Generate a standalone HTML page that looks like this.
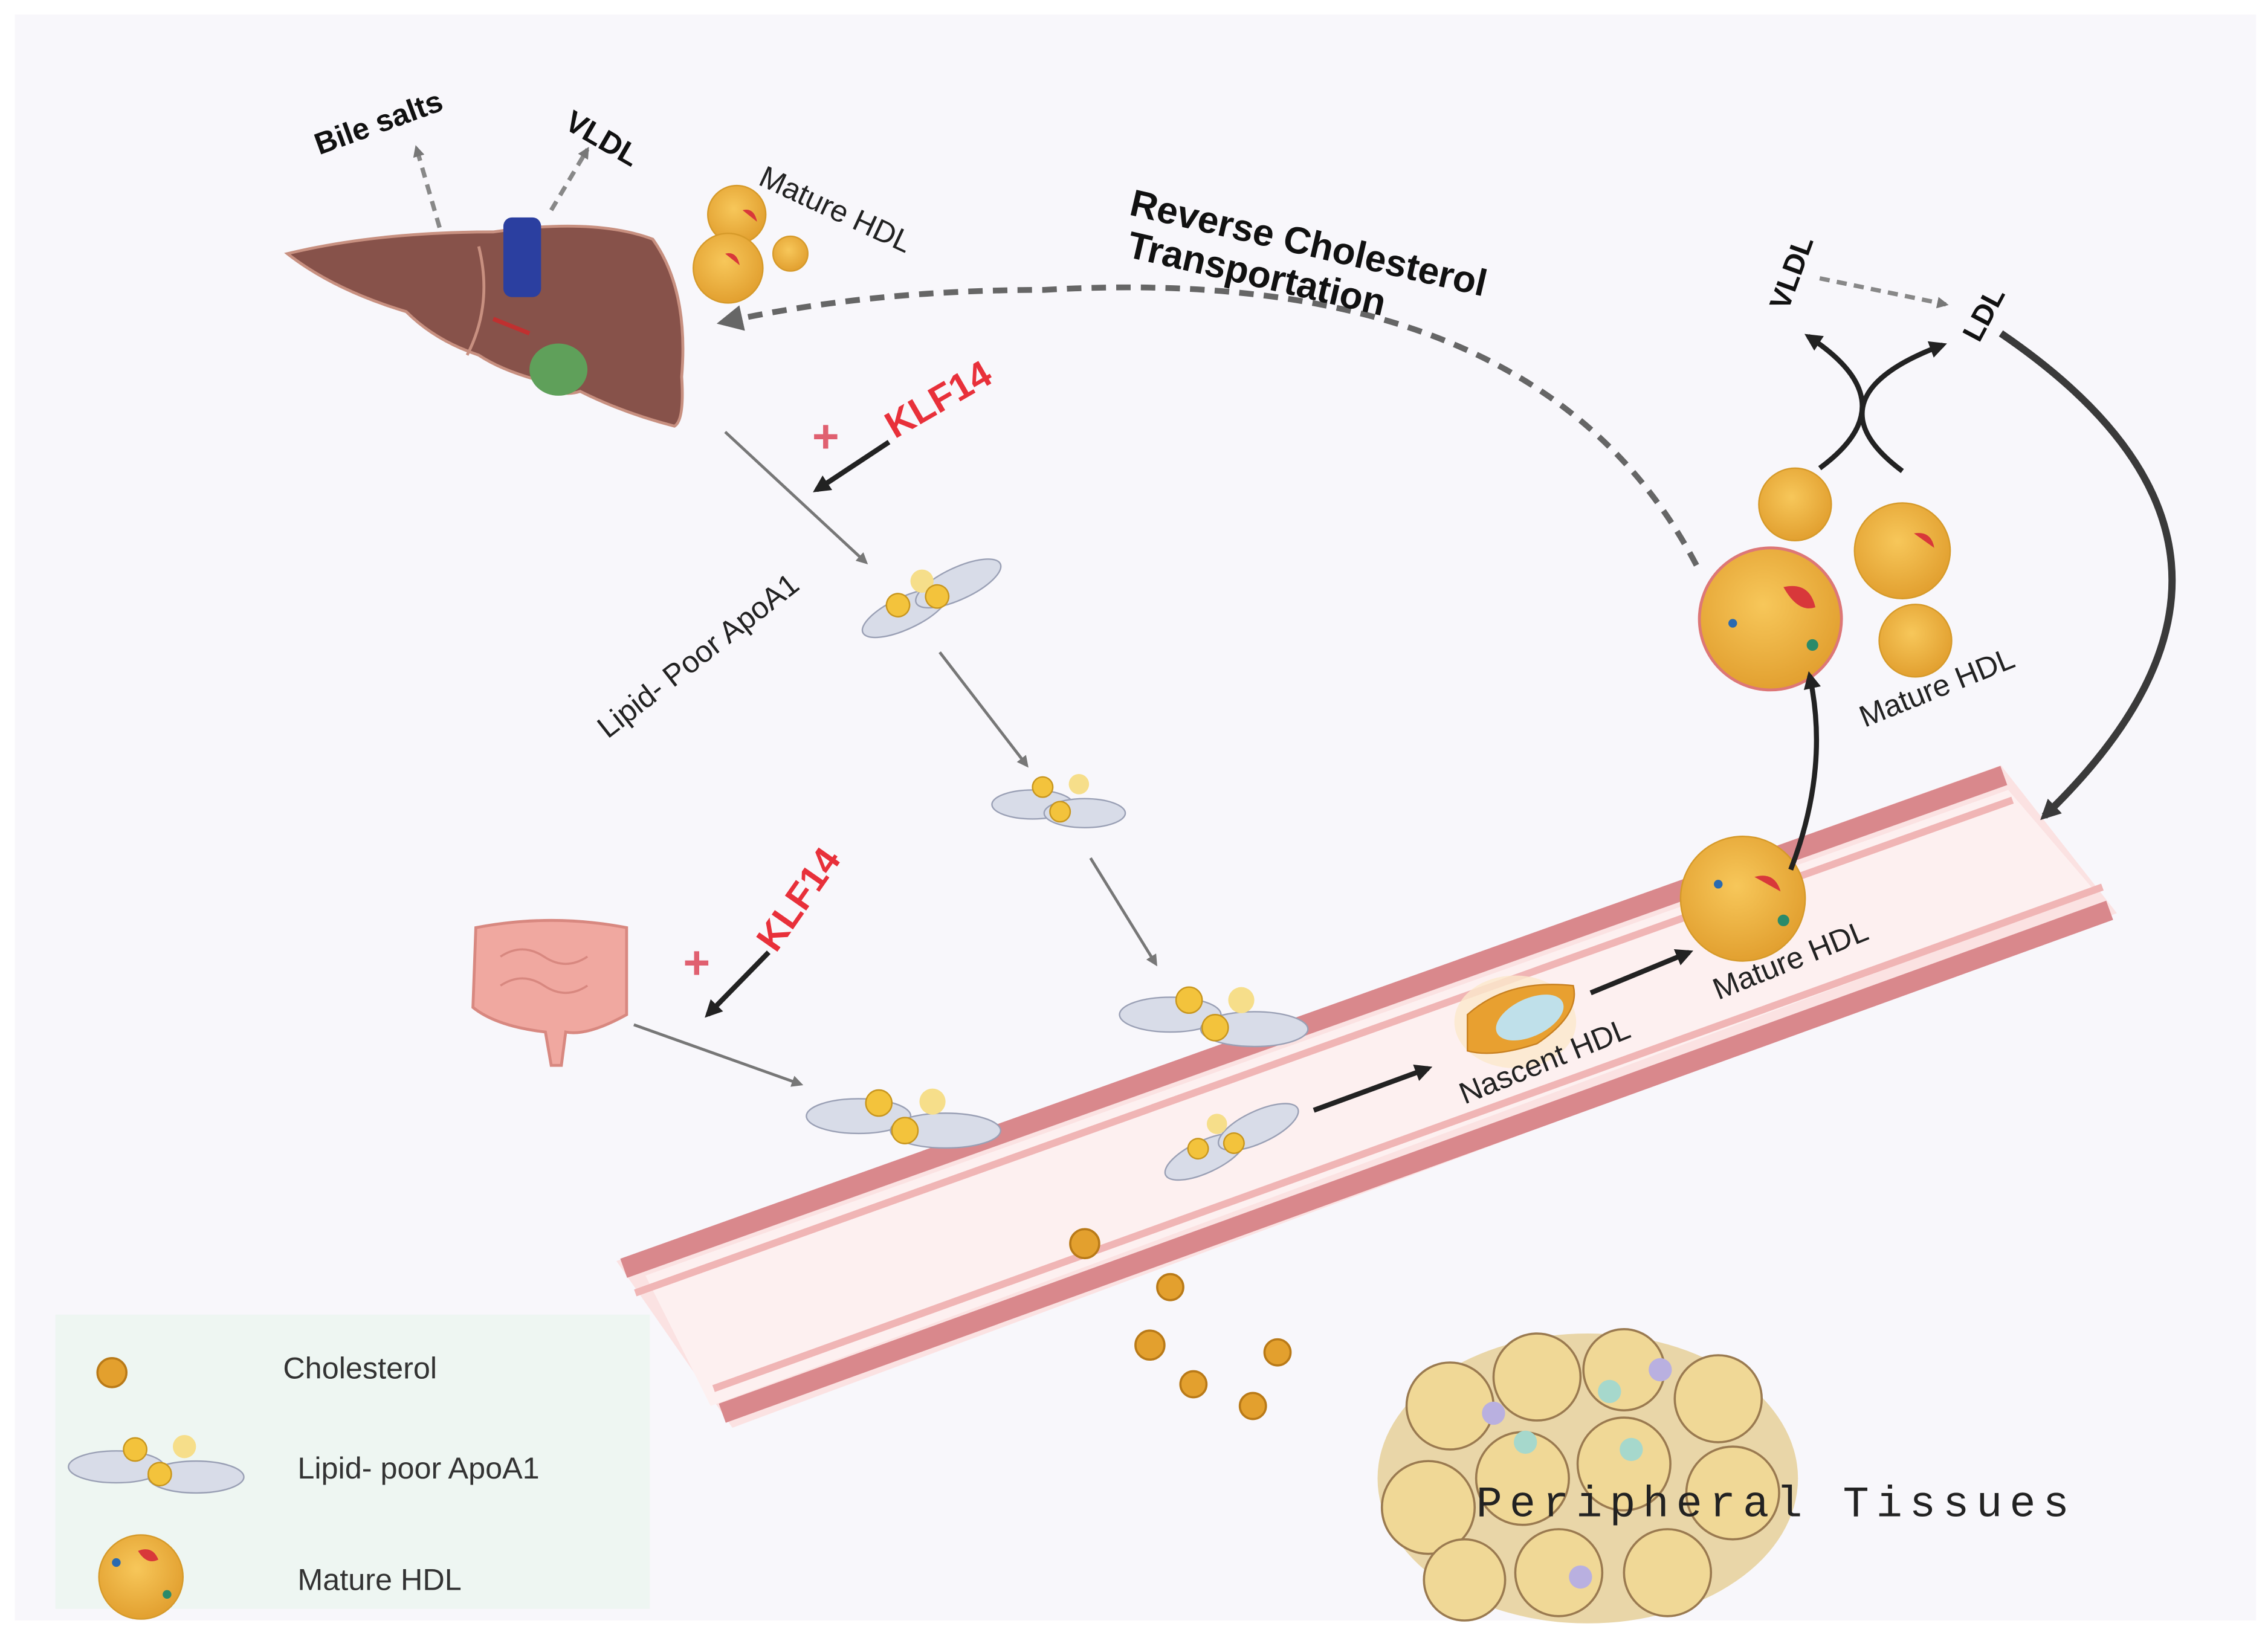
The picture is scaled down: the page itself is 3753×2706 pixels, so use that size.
<!DOCTYPE html>
<html><head><meta charset="utf-8"><style>
html,body{margin:0;padding:0;background:#fff}
svg{display:block}
text{font-family:"Liberation Sans",sans-serif}
text.mono{font-family:"Liberation Mono",monospace;letter-spacing:5px}
</style></head><body>
<svg width="3753" height="2706" viewBox="0 0 1564 1128" xmlns="http://www.w3.org/2000/svg">
<defs>
<radialGradient id="hg" cx="0.45" cy="0.4" r="0.6"><stop offset="0" stop-color="#f7c75a"/><stop offset="1" stop-color="#e2a030"/></radialGradient>
<marker id="ag" markerWidth="8" markerHeight="8" refX="6" refY="4" orient="auto" markerUnits="userSpaceOnUse"><path d="M0,0 L8,4 L0,8 z" fill="#777"/></marker>
<marker id="ak" markerWidth="12" markerHeight="12" refX="9" refY="6" orient="auto" markerUnits="userSpaceOnUse"><path d="M0,0 L12,6 L0,12 z" fill="#222"/></marker>
<marker id="ad" markerWidth="14" markerHeight="14" refX="10" refY="7" orient="auto" markerUnits="userSpaceOnUse"><path d="M0,0 L14,7 L0,14 z" fill="#3a3a3a"/></marker>
<marker id="adg" markerWidth="18" markerHeight="18" refX="12" refY="9" orient="auto" markerUnits="userSpaceOnUse"><path d="M0,0 L18,9 L0,18 z" fill="#666"/></marker>
</defs>
<rect width="1564" height="1128" fill="#fff"/>
<rect x="10" y="10" width="1546" height="1108" fill="#f8f7fb"/>

<!-- vessel -->
<polygon points="425,870 1380,528 1460,630 505,985" fill="#fbe2e2"/>
<polygon points="445,880 1385,545 1445,615 490,970" fill="#fdf0f0"/>
<line x1="430" y1="875" x2="1382" y2="535" stroke="#d9888c" stroke-width="14"/>
<line x1="438" y1="892" x2="1388" y2="552" stroke="#f0b5b5" stroke-width="5"/>
<line x1="498" y1="975" x2="1455" y2="628" stroke="#d9888c" stroke-width="14"/>
<line x1="492" y1="958" x2="1450" y2="612" stroke="#f0b5b5" stroke-width="5"/>

<!-- legend -->
<rect x="38" y="907" width="410" height="203" fill="#eef6f2"/>
<circle cx="77" cy="947" r="10" fill="#e3a02e" stroke="#b97a18" stroke-width="1.5"/>
<text x="195" y="951" font-size="21" fill="#333">Cholesterol</text>
<ellipse cx="80" cy="1012" rx="33" ry="11" fill="#d8dce8" stroke="#9aa0b5"/>
<ellipse cx="135" cy="1019" rx="33" ry="11" fill="#d8dce8" stroke="#9aa0b5"/>
<circle cx="93" cy="1000" r="8" fill="#f3c33c" stroke="#c8961e"/>
<circle cx="127" cy="998" r="8" fill="#f6de8a"/>
<circle cx="110" cy="1017" r="8" fill="#f3c33c" stroke="#c8961e"/>
<text x="205" y="1020" font-size="21" fill="#333">Lipid- poor ApoA1</text>
<circle cx="97" cy="1088" r="29" fill="url(#hg)" stroke="#d69a2a"/>
<path d="M95,1070 q10,-4 14,6 q-8,4 -14,-6z" fill="#d8383a"/>
<circle cx="80" cy="1078" r="3" fill="#2a6ab0"/><circle cx="115" cy="1100" r="3" fill="#2a8a6a"/>
<text x="205" y="1097" font-size="21" fill="#333">Mature HDL</text>

<!-- liver -->
<path d="M198,175 Q260,160 340,160 Q410,150 450,165 Q475,200 470,260 Q472,290 465,294 Q430,285 400,270 Q385,275 370,262 Q345,255 330,245 Q300,235 280,215 Q230,200 198,175z" fill="#87524a" stroke="#c89080" stroke-width="2"/>
<path d="M330,170 Q340,210 322,245" stroke="#c89080" stroke-width="2" fill="none"/>
<rect x="347" y="150" width="26" height="55" rx="6" fill="#2b3fa0"/>
<ellipse cx="385" cy="255" rx="20" ry="18" fill="#5fa05a"/>
<path d="M340,220 l25,10" stroke="#c03030" stroke-width="3"/>

<!-- gut -->
<path d="M328,640 Q380,630 432,640 L432,700 Q405,715 390,712 L387,735 L380,735 L376,712 Q342,708 326,695z" fill="#f0a8a0" stroke="#d88880" stroke-width="2"/>
<g fill="none" stroke="#d88880" stroke-width="1.5"><path d="M345,660 q15,-10 30,0 q15,10 30,0"/><path d="M345,680 q15,-10 30,0 q15,10 30,0"/></g>

<!-- tissue -->
<ellipse cx="1095" cy="1020" rx="145" ry="100" fill="#e9d6a8"/>
<g fill="#f0d896" stroke="#9a7a50" stroke-width="1.5">
<circle cx="1000" cy="970" r="30"/><circle cx="1060" cy="950" r="30"/><circle cx="1120" cy="945" r="28"/><circle cx="1185" cy="965" r="30"/>
<circle cx="985" cy="1040" r="32"/><circle cx="1050" cy="1020" r="32"/><circle cx="1120" cy="1010" r="32"/><circle cx="1195" cy="1030" r="32"/>
<circle cx="1010" cy="1090" r="28"/><circle cx="1075" cy="1085" r="30"/><circle cx="1150" cy="1085" r="30"/>
</g>
<g fill="#a6d8cc"><circle cx="1052" cy="995" r="8"/><circle cx="1110" cy="960" r="8"/><circle cx="1125" cy="1000" r="8"/></g>
<g fill="#b9b0e0"><circle cx="1030" cy="975" r="8"/><circle cx="1145" cy="945" r="8"/><circle cx="1090" cy="1088" r="8"/></g>
<text class="mono" x="1018" y="1046" font-size="30" fill="#222">Peripheral Tissues</text>

<!-- cholesterol dots -->
<g fill="#e3a02e" stroke="#b97a18" stroke-width="1.5">
<circle cx="748" cy="858" r="10"/><circle cx="807" cy="888" r="9"/><circle cx="793" cy="928" r="10"/><circle cx="881" cy="933" r="9"/><circle cx="823" cy="955" r="9"/><circle cx="864" cy="970" r="9"/>
</g>

<!-- apoA1 instances -->
<g transform="translate(640,410) rotate(-25)">
<ellipse cx="-20" cy="5" rx="32" ry="11" fill="#d8dce8" stroke="#9aa0b5"/><ellipse cx="22" cy="2" rx="32" ry="11" fill="#d8dce8" stroke="#9aa0b5"/>
<circle cx="-22" cy="-2" r="8" fill="#f3c33c" stroke="#c8961e"/><circle cx="0" cy="-10" r="8" fill="#f6de8a"/><circle cx="5" cy="4" r="8" fill="#f3c33c" stroke="#c8961e"/></g>
<g transform="translate(730,555)">
<ellipse cx="-18" cy="0" rx="28" ry="10" fill="#d8dce8" stroke="#9aa0b5"/><ellipse cx="18" cy="6" rx="28" ry="10" fill="#d8dce8" stroke="#9aa0b5"/>
<circle cx="-11" cy="-12" r="7" fill="#f3c33c" stroke="#c8961e"/><circle cx="14" cy="-14" r="7" fill="#f6de8a"/><circle cx="1" cy="5" r="7" fill="#f3c33c" stroke="#c8961e"/></g>
<g transform="translate(837,700)">
<ellipse cx="-30" cy="0" rx="35" ry="12" fill="#d8dce8" stroke="#9aa0b5"/><ellipse cx="28" cy="10" rx="37" ry="12" fill="#d8dce8" stroke="#9aa0b5"/>
<circle cx="-17" cy="-10" r="9" fill="#f3c33c" stroke="#c8961e"/><circle cx="19" cy="-10" r="9" fill="#f6de8a"/><circle cx="1" cy="9" r="9" fill="#f3c33c" stroke="#c8961e"/></g>
<g transform="translate(622,770)">
<ellipse cx="-30" cy="0" rx="36" ry="12" fill="#d8dce8" stroke="#9aa0b5"/><ellipse cx="30" cy="10" rx="38" ry="12" fill="#d8dce8" stroke="#9aa0b5"/>
<circle cx="-16" cy="-9" r="9" fill="#f3c33c" stroke="#c8961e"/><circle cx="21" cy="-10" r="9" fill="#f6de8a"/><circle cx="2" cy="10" r="9" fill="#f3c33c" stroke="#c8961e"/></g>
<g transform="translate(847,785) rotate(-25)">
<ellipse cx="-20" cy="5" rx="30" ry="11" fill="#d8dce8" stroke="#9aa0b5"/><ellipse cx="22" cy="2" rx="30" ry="11" fill="#d8dce8" stroke="#9aa0b5"/>
<circle cx="-22" cy="-2" r="7" fill="#f3c33c" stroke="#c8961e"/><circle cx="-3" cy="-12" r="7" fill="#f6de8a"/><circle cx="2" cy="5" r="7" fill="#f3c33c" stroke="#c8961e"/></g>

<!-- nascent HDL -->
<ellipse cx="1045" cy="705" rx="42" ry="32" fill="#fbe8cc" opacity="0.8"/>
<path d="M1012,700 Q1040,675 1085,680 Q1090,700 1060,720 Q1030,730 1012,725z" fill="#e8a030" stroke="#c88020"/>
<ellipse cx="1055" cy="702" rx="25" ry="13" fill="#bfe0ea" transform="rotate(-25 1055 702)"/>

<!-- HDL particles -->
<g stroke="#d69a2a" stroke-width="1">
<circle cx="508" cy="148" r="20" fill="url(#hg)"/><circle cx="502" cy="185" r="24" fill="url(#hg)"/><circle cx="545" cy="175" r="12" fill="url(#hg)"/>
<circle cx="1238" cy="348" r="25" fill="url(#hg)"/><circle cx="1312" cy="380" r="33" fill="url(#hg)"/><circle cx="1221" cy="427" r="49" fill="url(#hg)" stroke="#d77" stroke-width="2"/><circle cx="1321" cy="442" r="25" fill="url(#hg)"/>
<circle cx="1202" cy="620" r="43" fill="url(#hg)"/>
</g>
<g fill="#d8383a"><path d="M1230,405 q18,-4 22,14 q-12,4 -22,-14z"/><path d="M1320,368 q12,-2 14,10z"/><path d="M1210,605 q14,-4 18,10z"/><path d="M512,145 q8,-2 10,8z"/><path d="M500,175 q8,-2 10,8z"/></g>
<g fill="#2a8a6a"><circle cx="1250" cy="445" r="4"/><circle cx="1195" cy="430" r="3" fill="#2a6ab0"/><circle cx="1230" cy="635" r="4"/><circle cx="1185" cy="610" r="3" fill="#2a6ab0"/></g>

<!-- arrows -->
<g stroke="#777" stroke-width="2" fill="none" marker-end="url(#ag)">
<line x1="500" y1="298" x2="597" y2="388"/>
<line x1="648" y1="450" x2="708" y2="528"/>
<line x1="752" y1="592" x2="797" y2="665"/>
<line x1="437" y1="707" x2="552" y2="748"/>
</g>
<g stroke="#888" stroke-width="3" fill="none" stroke-dasharray="7,5" marker-end="url(#ag)">
<line x1="303" y1="157" x2="287" y2="102"/>
<line x1="380" y1="145" x2="405" y2="103"/>
<line x1="1255" y1="192" x2="1342" y2="210"/>
</g>
<path d="M1170,390 Q1060,180 720,200 Q600,200 500,222" stroke="#666" stroke-width="4" fill="none" stroke-dasharray="10,7" marker-end="url(#adg)"/>
<g stroke="#222" stroke-width="3.5" fill="none" marker-end="url(#ak)">
<line x1="613" y1="305" x2="563" y2="338"/>
<line x1="530" y1="657" x2="488" y2="700"/>
<line x1="906" y1="766" x2="985" y2="737"/>
<line x1="1097" y1="685" x2="1165" y2="657"/>
<path d="M1235,600 Q1262,530 1248,466"/>
<path d="M1255,323 C1300,290 1290,260 1247,232"/>
<path d="M1312,325 C1265,290 1280,260 1340,238"/>
</g>
<path d="M1380,230 Q1600,380 1410,563" stroke="#3a3a3a" stroke-width="5" fill="none" marker-end="url(#ad)"/>

<!-- KLF14 -->
<text x="617" y="303" font-size="26" font-weight="bold" fill="#e8303a" transform="rotate(-30 617 303)">KLF14</text>
<text x="560" y="312" font-size="32" font-weight="bold" fill="#e06070">+</text>
<text x="535" y="658" font-size="26" font-weight="bold" fill="#e8303a" transform="rotate(-55 535 658)">KLF14</text>
<text x="471" y="675" font-size="32" font-weight="bold" fill="#e06070">+</text>

<!-- labels -->
<text x="220" y="107" font-size="21" font-weight="bold" fill="#111" transform="rotate(-20 220 107)">Bile salts</text>
<text x="388" y="88" font-size="21" font-weight="bold" fill="#111" transform="rotate(30 388 88)">VLDL</text>
<text x="522" y="127" font-size="21" fill="#222" transform="rotate(25 522 127)">Mature HDL</text>
<text x="778" y="148" font-size="26" font-weight="bold" fill="#111" transform="rotate(13 778 148)">Reverse Cholesterol</text>
<text x="776" y="177" font-size="26" font-weight="bold" fill="#111" transform="rotate(13 776 177)">Transportation</text>
<text x="1233" y="215" font-size="20" font-weight="bold" fill="#111" transform="rotate(-70 1233 215)">VLDL</text>
<text x="1365" y="237" font-size="20" font-weight="bold" fill="#111" transform="rotate(-62 1365 237)">LDL</text>
<text x="419" y="510" font-size="21" fill="#222" transform="rotate(-38 419 510)">Lipid- Poor ApoA1</text>
<text x="1286" y="502" font-size="21" fill="#222" transform="rotate(-22 1286 502)">Mature HDL</text>
<text x="1185" y="690" font-size="21" fill="#222" transform="rotate(-22 1185 690)">Mature HDL</text>
<text x="1010" y="762" font-size="21" fill="#222" transform="rotate(-22 1010 762)">Nascent HDL</text>
</svg>
</body></html>
